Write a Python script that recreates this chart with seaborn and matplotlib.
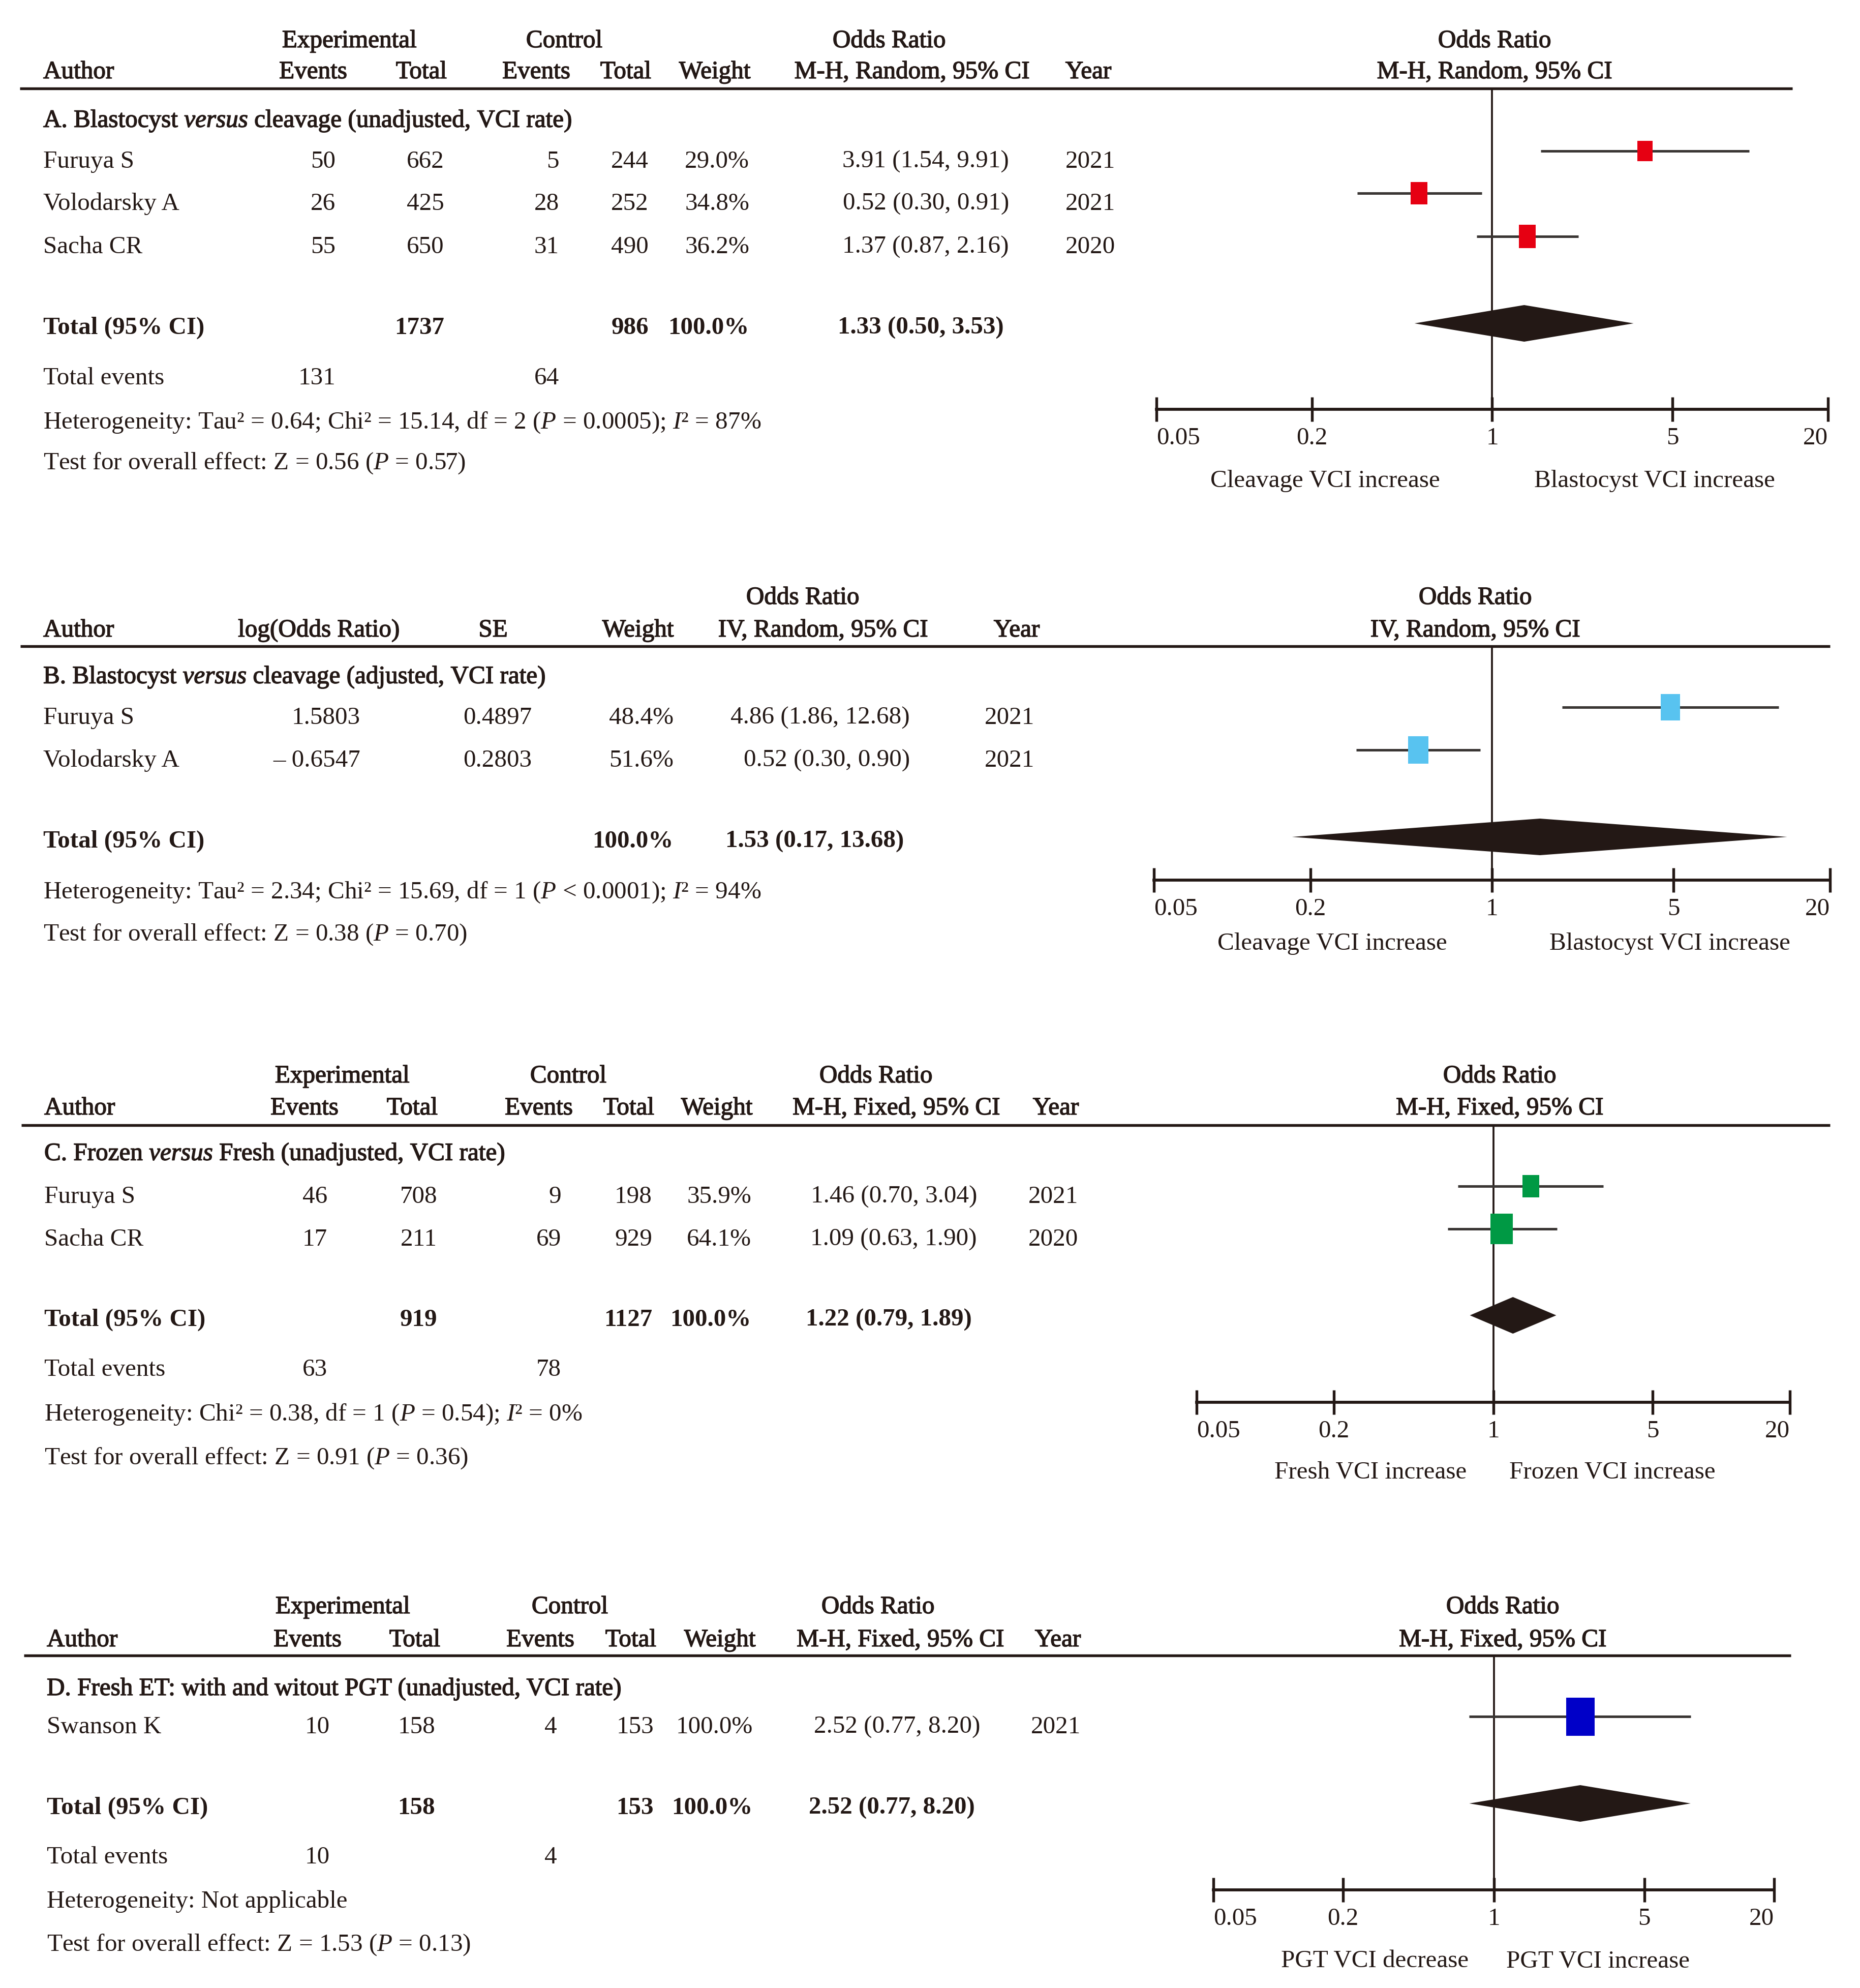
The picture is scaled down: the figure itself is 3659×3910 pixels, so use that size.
import matplotlib
matplotlib.use("Agg")
import matplotlib.pyplot as plt
import matplotlib.patheffects as pe
from matplotlib.ticker import NullLocator
import seaborn as sns

# ---------------- data ----------------
# A. Blastocyst versus cleavage (unadjusted)
a_title = r"A. Blastocyst $\mathit{versus}$ cleavage (unadjusted, VCI rate)"
a_method = "M-H, Random, 95% CI"
a_author = ["Furuya S", "Volodarsky A", "Sacha CR"]
a_ev_exp = [50, 26, 55]
a_n_exp = [662, 425, 650]
a_ev_ctl = [5, 28, 31]
a_n_ctl = [244, 252, 490]
a_weight = [29.0, 34.8, 36.2]
a_or = [3.91, 0.52, 1.37]
a_lo = [1.54, 0.30, 0.87]
a_hi = [9.91, 0.91, 2.16]
a_year = [2021, 2021, 2020]
a_pooled = [1.33, 0.50, 3.53]
a_n_sum = [1737, 986]
a_ev_sum = [131, 64]
a_het = r"Heterogeneity: Tau² = 0.64; Chi² = 15.14, df = 2 ($\mathit{P}$ = 0.0005); $\mathit{I}$² = 87%"
a_test = r"Test for overall effect: Z = 0.56 ($\mathit{P}$ = 0.57)"
a_dirs = ["Cleavage VCI increase", "Blastocyst VCI increase"]

# B. Blastocyst versus cleavage (adjusted)
b_title = r"B. Blastocyst $\mathit{versus}$ cleavage (adjusted, VCI rate)"
b_method = "IV, Random, 95% CI"
b_author = ["Furuya S", "Volodarsky A"]
b_log_or = [1.5803, -0.6547]
b_se = [0.4897, 0.2803]
b_weight = [48.4, 51.6]
b_or = [4.86, 0.52]
b_lo = [1.86, 0.30]
b_hi = [12.68, 0.90]
b_year = [2021, 2021]
b_pooled = [1.53, 0.17, 13.68]
b_het = r"Heterogeneity: Tau² = 2.34; Chi² = 15.69, df = 1 ($\mathit{P}$ < 0.0001); $\mathit{I}$² = 94%"
b_test = r"Test for overall effect: Z = 0.38 ($\mathit{P}$ = 0.70)"
b_dirs = ["Cleavage VCI increase", "Blastocyst VCI increase"]

# C. Frozen versus fresh
c_title = r"C. Frozen $\mathit{versus}$ Fresh (unadjusted, VCI rate)"
c_method = "M-H, Fixed, 95% CI"
c_author = ["Furuya S", "Sacha CR"]
c_ev_exp = [46, 17]
c_n_exp = [708, 211]
c_ev_ctl = [9, 69]
c_n_ctl = [198, 929]
c_weight = [35.9, 64.1]
c_or = [1.46, 1.09]
c_lo = [0.70, 0.63]
c_hi = [3.04, 1.90]
c_year = [2021, 2020]
c_pooled = [1.22, 0.79, 1.89]
c_n_sum = [919, 1127]
c_ev_sum = [63, 78]
c_het = r"Heterogeneity: Chi² = 0.38, df = 1 ($\mathit{P}$ = 0.54); $\mathit{I}$² = 0%"
c_test = r"Test for overall effect: Z = 0.91 ($\mathit{P}$ = 0.36)"
c_dirs = ["Fresh VCI increase", "Frozen VCI increase"]

# D. Fresh ET with / without PGT
d_title = "D. Fresh ET: with and witout PGT (unadjusted, VCI rate)"
d_method = "M-H, Fixed, 95% CI"
d_author = ["Swanson K"]
d_ev_exp = [10]
d_n_exp = [158]
d_ev_ctl = [4]
d_n_ctl = [153]
d_weight = [100.0]
d_or = [2.52]
d_lo = [0.77]
d_hi = [8.20]
d_year = [2021]
d_pooled = [2.52, 0.77, 8.20]
d_n_sum = [158, 153]
d_ev_sum = [10, 4]
d_het = "Heterogeneity: Not applicable"
d_test = r"Test for overall effect: Z = 1.53 ($\mathit{P}$ = 0.13)"
d_dirs = ["PGT VCI decrease", "PGT VCI increase"]

tick_vals = [0.05, 0.2, 1, 5, 20]
tick_labels = ["0.05", "0.2", "1", "5", "20"]

# ---------------- layout (pixels of the 3659x3910 canvas) ----------------
W, H, DPI = 3659, 3910, 300
FS = 11.8
INK = "#231815"
LINE = "#3a3634"
BASE = 16

lay_a = dict(top=77, hdr=138, rule=174, rule_x=(39, 3526), sub=234, rows=[314, 397, 482],
             total=641, events=740, het=827, test=907, axis=805, span=(2275, 3596),
             dir_y=942, dir_x=(2607, 3255), or_x=2940, left=85,
             cols=[660, 874, 1100, 1276, 1474, 1985, 2145], top_x=[687, 1110, 1749],
             hdr_x=[616, 829, 1055, 1231, 1406, 1794, 2141])
lay_b = dict(top=1172, hdr=1236, rule=1271, rule_x=(40, 3600), sub=1328, rows=[1408, 1492],
             total=1651, het=1751, test=1834, axis=1731, span=(2270, 3600),
             dir_y=1852, dir_x=(2621, 3285), or_x=2902, left=85,
             cols=[709, 1046, 1325, 1790, 1986], top_x=1579,
             hdr_x=[627, 970, 1255, 1619, 2000])
lay_c = dict(top=2113, hdr=2176, rule=2213, rule_x=(42, 3600), sub=2266, rows=[2350, 2434],
             total=2592, events=2690, het=2778, test=2864, axis=2758, span=(2354, 3521),
             dir_y=2892, dir_x=(2696, 3172), or_x=2950, left=87,
             cols=[644, 860, 1104, 1283, 1478, 1922, 2072], top_x=[673, 1118, 1723],
             hdr_x=[599, 811, 1060, 1237, 1410, 1763, 2077])
lay_d = dict(top=3157, hdr=3222, rule=3256, rule_x=(47, 3523), sub=3318, rows=[3393],
             total=3552, events=3649, het=3736, test=3821, axis=3717, span=(2387, 3490),
             dir_y=3853, dir_x=(2705, 3144), or_x=2956, left=92,
             cols=[649, 856, 1096, 1286, 1481, 1928, 2077], top_x=[674, 1121, 1727],
             hdr_x=[605, 816, 1063, 1241, 1416, 1771, 2081])

sns.set_theme(style="white")
plt.rcParams["font.family"] = ["Liberation Serif", "DejaVu Serif"]
plt.rcParams["mathtext.fontset"] = "custom"
plt.rcParams["mathtext.rm"] = "Liberation Serif"
plt.rcParams["mathtext.it"] = "Liberation Serif:italic"
plt.rcParams["mathtext.bf"] = "Liberation Serif:bold"
plt.rcParams["mathtext.default"] = "regular"

fig = plt.figure(figsize=(W / DPI, H / DPI), dpi=DPI)
fig.patch.set_facecolor("white")
bg = fig.add_axes([0, 0, 1, 1])
bg.set_xlim(0, W)
bg.set_ylim(H, 0)
bg.axis("off")

# headings in the reference are set in a medium weight: regular + thin stroke
HEAVY = [pe.withStroke(linewidth=0.35, foreground=INK)]
BOX = [(-0.735, -1), (0.735, -1), (0.735, 1), (-0.735, 1), (-0.735, -1)]


def put(x, y, s, ha="left", bold=False, heavy=False):
    bg.text(x, y + BASE, s, ha=ha, va="baseline", fontsize=FS, color=INK,
            fontweight="bold" if bold else "normal",
            path_effects=HEAVY if heavy else [])


def ci(e, lo, hi):
    return f"{e:.2f} ({lo:.2f}, {hi:.2f})"


def forest(lay, est, lo, hi, weight, pooled, color, dirs, method):
    x0, x1 = lay["span"]
    ax = fig.add_axes([x0 / W, 1 - lay["axis"] / H, (x1 - x0) / W,
                       (lay["axis"] - lay["rule"]) / H])
    ax.patch.set_alpha(0)
    ax.set_xscale("log")
    ys = [r - 17 for r in lay["rows"]]
    ax.axvline(1, color=INK, lw=0.9, zorder=1)
    ax.hlines(ys, lo, hi, color=LINE, lw=1.2, zorder=2)
    sizes = [(7.5 * w ** 0.5 * 72 / DPI) ** 2 for w in weight]
    sns.scatterplot(x=est, y=ys, marker=BOX, s=sizes, color=color, linewidth=0,
                    ax=ax, zorder=3, legend=False)
    yd = lay["total"] - 5
    ax.fill([pooled[1], pooled[0], pooled[2], pooled[0]],
            [yd, yd - 36, yd, yd + 36], color=INK, lw=0, zorder=3)
    ax.set_xlim(0.05, 20)
    ax.set_ylim(lay["axis"], lay["rule"])
    ax.set_xticks(tick_vals, tick_labels)
    ax.xaxis.set_minor_locator(NullLocator())
    ax.tick_params(axis="x", bottom=True, direction="inout", length=11.5, width=1.3,
                   pad=2.6, labelsize=FS, colors=INK)
    labs = ax.get_xticklabels()
    labs[0].set_ha("left")
    labs[-1].set_ha("right")
    ax.set_yticks([])
    ax.set_xlabel("")
    ax.set_ylabel("")
    for side in ["left", "top", "right"]:
        ax.spines[side].set_visible(False)
    ax.spines["bottom"].set_linewidth(1.4)
    ax.spines["bottom"].set_color(INK)
    # headers and direction labels above / below the plot
    put(lay["or_x"], lay["top"], "Odds Ratio", ha="center", heavy=True)
    put(lay["or_x"], lay["hdr"], method, ha="center", heavy=True)
    put(lay["dir_x"][0], lay["dir_y"], dirs[0], ha="center")
    put(lay["dir_x"][1], lay["dir_y"], dirs[1], ha="center")
    bg.hlines(lay["rule"], *lay["rule_x"], color=INK, lw=1.3)


def binary_panel(lay, title, method, author, ev_e, n_e, ev_c, n_c, weight, est, lo, hi,
                 year, pooled, n_sum, ev_sum, het, test, color, dirs):
    L = lay["left"]
    c = lay["cols"]
    for x, s in zip(lay["top_x"], ["Experimental", "Control", "Odds Ratio"]):
        put(x, lay["top"], s, ha="center", heavy=True)
    put(L, lay["hdr"], "Author", heavy=True)
    for x, s in zip(lay["hdr_x"], ["Events", "Total", "Events", "Total", "Weight", method, "Year"]):
        put(x, lay["hdr"], s, ha="center", heavy=True)
    put(L, lay["sub"], title, heavy=True)
    for i, y in enumerate(lay["rows"]):
        put(L, y, author[i])
        put(c[0], y, str(ev_e[i]), ha="right")
        put(c[1], y, str(n_e[i]), ha="right")
        put(c[2], y, str(ev_c[i]), ha="right")
        put(c[3], y, str(n_c[i]), ha="right")
        put(c[4], y, f"{weight[i]:.1f}%", ha="right")
        put(c[5], y, ci(est[i], lo[i], hi[i]), ha="right")
        put(c[6], y, str(year[i]), ha="center")
    y = lay["total"]
    put(L, y, "Total (95% CI)", bold=True)
    put(c[1], y, str(n_sum[0]), ha="right", bold=True)
    put(c[3], y, str(n_sum[1]), ha="right", bold=True)
    put(c[4], y, "100.0%", ha="right", bold=True)
    put(c[5] - 10, y, ci(*pooled), ha="right", bold=True)
    y = lay["events"]
    put(L, y, "Total events")
    put(c[0], y, str(ev_sum[0]), ha="right")
    put(c[2], y, str(ev_sum[1]), ha="right")
    put(L, lay["het"], het)
    put(L, lay["test"], test)
    forest(lay, est, lo, hi, weight, pooled, color, dirs, method)


binary_panel(lay_a, a_title, a_method, a_author, a_ev_exp, a_n_exp, a_ev_ctl, a_n_ctl,
             a_weight, a_or, a_lo, a_hi, a_year, a_pooled, a_n_sum, a_ev_sum,
             a_het, a_test, "#e60012", a_dirs)

# panel B: generic inverse-variance layout
L = lay_b["left"]
c = lay_b["cols"]
put(lay_b["top_x"], lay_b["top"], "Odds Ratio", ha="center", heavy=True)
put(L, lay_b["hdr"], "Author", heavy=True)
for x, s in zip(lay_b["hdr_x"], ["log(Odds Ratio)", "SE", "Weight", b_method, "Year"]):
    put(x, lay_b["hdr"], s, ha="center", heavy=True)
put(L, lay_b["sub"], b_title, heavy=True)
for i, y in enumerate(lay_b["rows"]):
    v = b_log_or[i]
    put(L, y, b_author[i])
    put(c[0], y, f"{v:.4f}" if v >= 0 else f"\u2013 {abs(v):.4f}", ha="right")
    put(c[1], y, f"{b_se[i]:.4f}", ha="right")
    put(c[2], y, f"{b_weight[i]:.1f}%", ha="right")
    put(c[3], y, ci(b_or[i], b_lo[i], b_hi[i]), ha="right")
    put(c[4], y, str(b_year[i]), ha="center")
put(L, lay_b["total"], "Total (95% CI)", bold=True)
put(c[2], lay_b["total"], "100.0%", ha="right", bold=True)
put(c[3] - 12, lay_b["total"], ci(*b_pooled), ha="right", bold=True)
put(L, lay_b["het"], b_het)
put(L, lay_b["test"], b_test)
forest(lay_b, b_or, b_lo, b_hi, b_weight, b_pooled, "#58c3f0", b_dirs, b_method)

binary_panel(lay_c, c_title, c_method, c_author, c_ev_exp, c_n_exp, c_ev_ctl, c_n_ctl,
             c_weight, c_or, c_lo, c_hi, c_year, c_pooled, c_n_sum, c_ev_sum,
             c_het, c_test, "#009944", c_dirs)
binary_panel(lay_d, d_title, d_method, d_author, d_ev_exp, d_n_exp, d_ev_ctl, d_n_ctl,
             d_weight, d_or, d_lo, d_hi, d_year, d_pooled, d_n_sum, d_ev_sum,
             d_het, d_test, "#0000c8", d_dirs)

fig.savefig("out.png", dpi=DPI, facecolor="white")
